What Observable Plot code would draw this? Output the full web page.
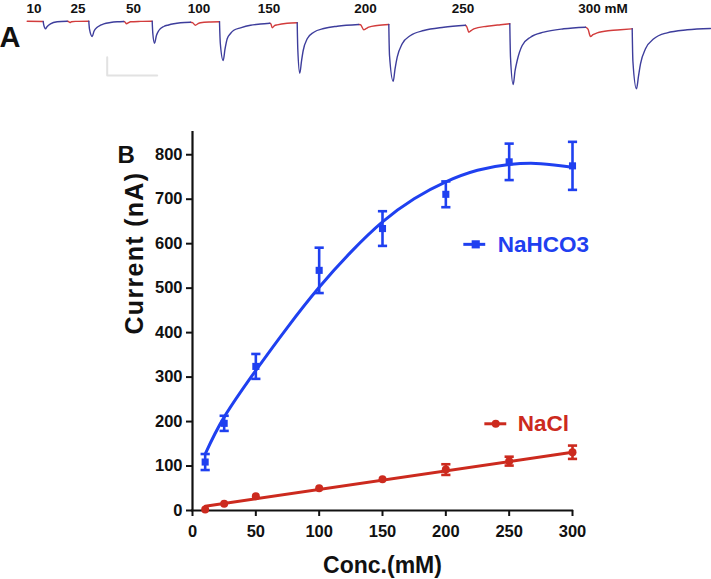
<!DOCTYPE html>
<html><head><meta charset="utf-8">
<script src="https://cdn.jsdelivr.net/npm/d3@7"></script>
<script src="https://cdn.jsdelivr.net/npm/@observablehq/plot@0.6"></script>
<style>
body{margin:0;background:#fff;}
#wrap{width:711px;height:579px;position:relative;overflow:hidden;background:#fff;}
#a,#b{position:absolute;left:0;}
#a{top:0;} #b{top:100px;}
</style></head><body><div id="wrap"><div id="a"></div><div id="b"></div></div>
<script>
// ---------- Panel B data ----------
const conc = [10, 25, 50, 100, 150, 200, 250, 300];
const nahco3Mean = [109, 196, 324, 540, 634, 711, 784, 775];
const nahco3Err  = [18, 17, 28, 51, 39, 29, 41, 54];
const naclMean   = [2, 15, 32, 50, 70, 92, 111, 131];
const naclErr    = [0, 0, 0, 0, 0, 12, 10, 15];
const nahco3FitX = [10, 25, 50, 75, 100, 125, 150, 175, 200, 225, 250, 275, 300];
const nahco3FitY = [127, 210, 315, 412, 502, 581, 649, 701, 739, 765, 778, 780, 772];
const naclFitX = [10, 300];
const naclFitY = [9.7, 131];
const xTicks = [0, 50, 100, 150, 200, 250, 300];
const yTicks = [0, 100, 200, 300, 400, 500, 600, 700, 800];
const concLabels = ["10", "25", "50", "100", "150", "200", "250", "300 mM"];
const concLabelTime = [33.5, 77.5, 133, 198.5, 268.5, 365, 462.5, 602.5];

// ---------- Panel A traces (time, current) ----------
const redTrace10  = [[26.7,0],[42.7,-0.3]];
const blueTrace10 = [[42.7,-0.3],[43.3,-4],[45,-7.6],[46.5,-5.5],[50,-2.6],[56.7,-0.6],[66.7,0]];
const redTrace25  = [[66.7,0],[68,-0.3],[69.5,-1.3],[71,-0.5],[75,-0.2],[88.3,0]];
const blueTrace25 = [[88.3,0],[89,-8],[91.7,-15.3],[93.5,-10],[96.7,-6],[100,-4],[103.3,-2.6],[110,-1.3],[116.7,-0.6],[123.3,-0.3]];
const redTrace50  = [[123.3,-0.3],[124.5,-0.8],[126,-2.6],[128,-1.5],[130,-0.6],[140,-0.2],[151.7,0]];
const blueTrace50 = [[151.7,0],[152.3,-12],[154,-22],[156,-14],[158.3,-9.3],[163.3,-5.3],[168,-3.8],[173.3,-2.6],[180,-1.6],[190,-1]];
const redTrace100  = [[190,-1],[192,-1.5],[195,-4],[197,-2.8],[200,-1.5],[210,-0.8],[219,-0.6]];
const blueTrace100 = [[219,-0.6],[219.8,-22],[222.7,-39.3],[224.5,-28],[226.7,-17.6],[230,-12.3],[233.3,-9],[240,-6.6],[250,-4],[260,-2.8],[269.3,-2]];
const redTrace150  = [[269.3,-2],[270.5,-3],[271.7,-6.6],[274,-4.5],[276.7,-3.6],[286.7,-2],[296.7,-1.6]];
const blueTrace150 = [[296.7,-1.6],[297.3,-28],[299.3,-52],[301,-40],[302.7,-29.3],[306.7,-17.6],[313.3,-11],[323.3,-7.3],[336.7,-5],[358.3,-3.3]];
const redTrace200  = [[358.3,-3.3],[360,-3.5],[363.3,-8.6],[365.5,-7.5],[368.3,-6],[376.7,-4.3],[388.3,-3.3]];
const blueTrace200 = [[388.3,-3.3],[389,-34],[392.7,-60],[394.5,-48],[396.7,-36],[401.7,-22.6],[410,-14.3],[423.3,-9.3],[443.3,-6],[465,-4]];
const redTrace250  = [[465,-4],[466.5,-6],[468.3,-11],[470.5,-9.5],[473.3,-7.6],[486.7,-5],[500,-3.5],[509.3,-2.6]];
const blueTrace250 = [[509.3,-2.6],[510,-36],[512.7,-63.3],[514.5,-50],[516.7,-39.3],[521.7,-24.3],[530,-16],[543.3,-11],[563.3,-7.6],[585,-6]];
const redTrace300  = [[585,-6],[587.5,-8],[590,-15.3],[592.5,-13.5],[596.7,-11.6],[610,-9.3],[620,-8.5],[631.7,-7.6]];
const blueTrace300 = [[631.7,-7.6],[632.4,-40],[636,-67.6],[638,-55],[640,-42.6],[645,-27.6],[653.3,-17.6],[666.7,-11.6],[686.7,-8.6],[710,-7.3]];
const scaleBar = [[106.7,-36],[106.7,-54.3],[156.7,-54.3]];

const redTraces = [redTrace10, redTrace25, redTrace50, redTrace100, redTrace150, redTrace200, redTrace250, redTrace300];
const blueTraces = [blueTrace10, blueTrace25, blueTrace50, blueTrace100, blueTrace150, blueTrace200, blueTrace250, blueTrace300];

const FONT = "'Liberation Sans', Arial, Helvetica, sans-serif";
const BLUE = "#1f40f0";
const RED = "#cc2a1e";

function flatten(traces) {
  const rows = [];
  traces.forEach((tr, k) => tr.forEach(([t, i]) => rows.push({t, i, id: k})));
  return rows;
}

// ---------- Panel A ----------
const plotA = Plot.plot({
  width: 711, height: 100,
  marginTop: 0, marginRight: 0, marginBottom: 0, marginLeft: 0,
  x: {domain: [0, 711], range: [0, 711], axis: null},
  y: {domain: [20.7, -79.3], range: [0, 100], axis: null},
  style: {fontFamily: FONT, background: "transparent", overflow: "visible"},
  marks: [
    Plot.line(scaleBar.map(([t, i]) => ({t, i})), {x: "t", y: "i", stroke: "#e2e2e2", strokeWidth: 2}),
    Plot.line(flatten(redTraces), {x: "t", y: "i", z: "id", stroke: "#d23c3c", strokeWidth: 1.4, curve: "monotone-x"}),
    Plot.line(flatten(blueTraces), {x: "t", y: "i", z: "id", stroke: "#3d3d9c", strokeWidth: 1.4, curve: "monotone-x"}),
    Plot.text(concLabels, {x: (d, k) => concLabelTime[k], frameAnchor: "top", dy: 12.5, lineAnchor: "bottom", text: d => d, fontSize: 13.5, fontWeight: "bold", fill: "#111"}),
    Plot.text(["A"], {frameAnchor: "top-left", dx: -1, dy: 46, textAnchor: "start", lineAnchor: "bottom", fontSize: 29, fontWeight: "bold", fill: "#111"})
  ]
});
document.getElementById("a").appendChild(plotA);

// ---------- Panel B ----------
const blueRows = conc.map((c, k) => ({c, m: nahco3Mean[k], e: nahco3Err[k]}));
const redRows = conc.map((c, k) => ({c, m: naclMean[k], e: naclErr[k]}));
const blueFit = nahco3FitX.map((c, k) => ({c, v: nahco3FitY[k]}));
const redFit = naclFitX.map((c, k) => ({c, v: naclFitY[k]}));
const capSymbol = {draw(ctx, size) { const w = Math.sqrt(size / Math.PI); ctx.moveTo(-w, 0); ctx.lineTo(w, 0); }};
const redBars = redRows.filter(d => d.e > 0);

const plotB = Plot.plot({
  width: 711, height: 479,
  marginTop: 32, marginRight: 139, marginBottom: 69, marginLeft: 192,
  x: {domain: [0, 300]},
  y: {domain: [0, 850]},
  style: {fontFamily: FONT, fontSize: "16px", fontWeight: "bold", color: "#111", background: "transparent", overflow: "visible"},
  marks: [
    Plot.axisX({ticks: xTicks, tickSize: 6, tickPadding: 9, strokeWidth: 2, fontSize: 16.5, fontWeight: "bold", label: null, tickFormat: d => String(d)}),
    Plot.axisY({ticks: yTicks, tickSize: 6, tickPadding: 4, strokeWidth: 2, fontSize: 16.5, fontWeight: "bold", label: null, tickFormat: d => String(d)}),
    Plot.ruleX([0], {y1: 0, y2: 850, stroke: "#111", strokeWidth: 2.2, strokeLinecap: "square"}),
    Plot.ruleY([0], {x1: 0, x2: 300, stroke: "#111", strokeWidth: 2.2, strokeLinecap: "square"}),
    // NaHCO3
    Plot.line(blueFit, {x: "c", y: "v", stroke: BLUE, strokeWidth: 3, curve: "natural"}),
    Plot.ruleX(blueRows, {x: "c", y1: d => d.m - d.e, y2: d => d.m + d.e, stroke: BLUE, strokeWidth: 2.6}),
    Plot.dot(blueRows, {x: "c", y: d => d.m + d.e, symbol: capSymbol, r: 4.6, stroke: BLUE, strokeWidth: 2.6, fill: "none"}),
    Plot.dot(blueRows, {x: "c", y: d => d.m - d.e, symbol: capSymbol, r: 4.6, stroke: BLUE, strokeWidth: 2.6, fill: "none"}),
    Plot.dot(blueRows, {x: "c", y: "m", symbol: "square", r: 4, fill: BLUE, stroke: "none"}),
    // NaCl
    Plot.line(redFit, {x: "c", y: "v", stroke: RED, strokeWidth: 3}),
    Plot.ruleX(redBars, {x: "c", y1: d => d.m - d.e, y2: d => d.m + d.e, stroke: RED, strokeWidth: 2.6}),
    Plot.dot(redBars, {x: "c", y: d => d.m + d.e, symbol: capSymbol, r: 4.6, stroke: RED, strokeWidth: 2.6, fill: "none"}),
    Plot.dot(redBars, {x: "c", y: d => d.m - d.e, symbol: capSymbol, r: 4.6, stroke: RED, strokeWidth: 2.6, fill: "none"}),
    Plot.dot(redRows, {x: "c", y: "m", r: 4, fill: RED, stroke: "none"}),
    // legends
    Plot.ruleY([598.5], {x1: 214.2, x2: 231.5, stroke: BLUE, strokeWidth: 3}),
    Plot.dot([0], {x: 223.6, y: 598.5, symbol: "square", r: 4.6, fill: BLUE}),
    Plot.text(["NaHCO3"], {x: 241, y: 598.5, text: d => d, textAnchor: "start", lineAnchor: "middle", fontSize: 22.5, fontWeight: "bold", fill: BLUE}),
    Plot.ruleY([195], {x1: 230.8, x2: 248.1, stroke: RED, strokeWidth: 3}),
    Plot.dot([0], {x: 239.4, y: 195, r: 4, fill: RED}),
    Plot.text(["NaCl"], {x: 256.8, y: 195, text: d => d, textAnchor: "start", lineAnchor: "middle", fontSize: 22.5, fontWeight: "bold", fill: RED}),
    // labels
    Plot.text(["B"], {frameAnchor: "top-left", dx: -75, dy: 30, textAnchor: "start", lineAnchor: "bottom", fontSize: 24, fontWeight: "bold", fill: "#111"}),
    Plot.text(["Conc.(mM)"], {frameAnchor: "bottom", dy: 62, lineAnchor: "bottom", fontSize: 23, fontWeight: "bold", fill: "#111"}),
    Plot.text(["Current (nA)"], {frameAnchor: "left", dx: -50, dy: 13, rotate: -90, lineAnchor: "bottom", fontSize: 25, fontWeight: "bold", fill: "#111"})
  ]
});
document.getElementById("b").appendChild(plotB);
d3.select(plotB).selectAll("text").filter(function () { return this.textContent === "Current (nA)"; }).attr("letter-spacing", "1.3px");
</script>
</body></html>
